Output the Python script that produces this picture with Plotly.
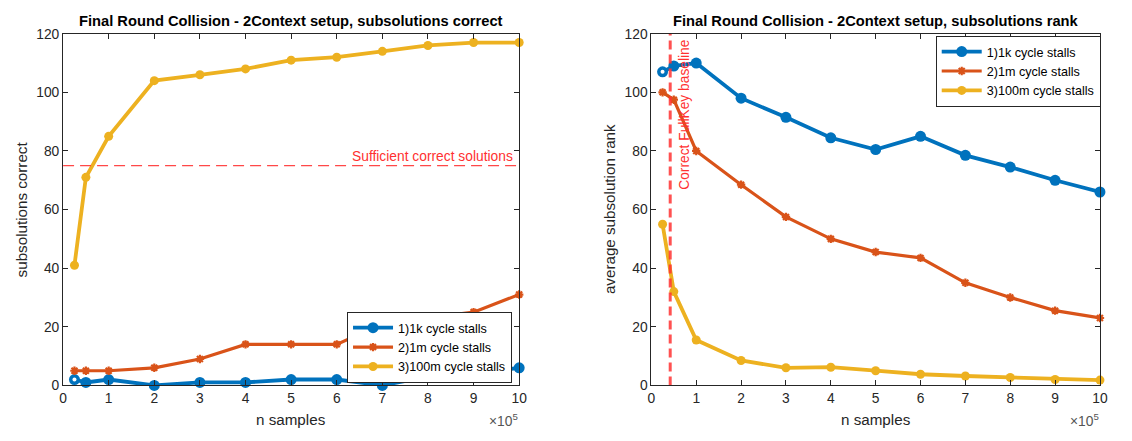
import plotly.graph_objects as go

# Sample counts (x) shared by every series
n_samples = [25000, 50000, 100000, 200000, 300000, 400000, 500000,
             600000, 700000, 800000, 900000, 1000000]
x_scale = 1e5
x_ticks = [0, 1, 2, 3, 4, 5, 6, 7, 8, 9, 10]
y_ticks = [0, 20, 40, 60, 80, 100, 120]

series_names = ["1)1k cycle stalls", "2)1m cycle stalls", "3)100m cycle stalls"]

# Left panel: number of correct subsolutions
correct_1k = [2, 1, 2, 0, 1, 1, 2, 2, 0, 3, 4, 6]
correct_1m = [5, 5, 5, 6, 9, 14, 14, 14, 21, 23, 25, 31]
correct_100m = [41, 71, 85, 104, 106, 108, 111, 112, 114, 116, 117, 117]
sufficient_correct = 75

# Right panel: average subsolution rank
rank_1k = [107, 109, 110, 98, 91.5, 84.5, 80.5, 85, 78.5, 74.5, 70, 66]
rank_1m = [100, 97.5, 80, 68.5, 57.5, 50, 45.5, 43.5, 35, 30, 25.5, 23]
rank_100m = [55, 32, 15.5, 8.5, 6, 6.2, 5, 3.8, 3.2, 2.7, 2, 1.8]
fullkey_baseline = 42000

W, H = 1132, 441
BLUE, ORANGE, YELLOW = "#0072BD", "#D95319", "#EDB120"
AX = "#262626"
RED = "#ff3030"
FONT = "Liberation Sans, Arial, Helvetica, sans-serif"

xs = [v / x_scale for v in n_samples]

# Pixel frames of the two axes boxes
L_X0, L_X1 = 59.7, 520.7
R_X0, R_X1 = 654.3, 1107.7
Y_TOP, Y_BOT = 27.7, 391.7


def px_x(p):
    return p / W


def px_y(p):
    return 1 - p / H


styles = [
    dict(color=BLUE, lw=3.8, marker=dict(symbol="circle", size=11, color=BLUE)),
    dict(color=ORANGE, lw=3.2, marker=dict(symbol="asterisk", size=7,
                                           line=dict(width=2.2, color=ORANGE), color=ORANGE)),
    dict(color=YELLOW, lw=3.8, marker=dict(symbol="circle", size=9, color=YELLOW)),
]

fig = go.Figure()

panels = [
    ("x", "y", "legend", [correct_1k, correct_1m, correct_100m]),
    ("x2", "y2", "legend2", [rank_1k, rank_1m, rank_100m]),
]

for xa, ya, lg, data in panels:
    for name, ys, st in zip(series_names, data, styles):
        fig.add_trace(go.Scatter(
            x=xs, y=ys, name=name, mode="lines+markers",
            line=dict(color=st["color"], width=st["lw"]),
            marker=st["marker"], xaxis=xa, yaxis=ya, legend=lg,
            cliponaxis=False,
        ))
    # first 1k-stall sample drawn as a ring
    fig.add_trace(go.Scatter(
        x=xs[:1], y=data[0][:1], mode="markers",
        marker=dict(symbol="circle", size=4, color="white"),
        xaxis=xa, yaxis=ya, showlegend=False, cliponaxis=False,
    ))

# Threshold line on the left panel
fig.add_trace(go.Scatter(
    x=[x_ticks[0], x_ticks[-1]], y=[sufficient_correct, sufficient_correct],
    mode="lines", line=dict(color="rgba(255,40,40,0.85)", width=1.2, dash="11px,6px"),
    xaxis="x", yaxis="y", showlegend=False,
))

# Baseline line on the right panel
fig.add_trace(go.Scatter(
    x=[fullkey_baseline / x_scale] * 2, y=[y_ticks[0], y_ticks[-1]],
    mode="lines", line=dict(color="rgba(255,50,50,0.85)", width=3, dash="9px,5px"),
    xaxis="x2", yaxis="y2", showlegend=False,
))

axis_common = dict(
    showline=True, linecolor=AX, linewidth=1, mirror="ticks",
    ticks="inside", ticklen=5, tickwidth=1, tickcolor=AX,
    showgrid=False, zeroline=False,
    tickfont=dict(family=FONT, size=13.8, color=AX),
    fixedrange=True,
)

xaxis_common = dict(axis_common, range=[0, 10], tickvals=x_ticks,
                    ticktext=[str(t) for t in x_ticks])
yaxis_common = dict(axis_common, range=[0, 120], tickvals=y_ticks,
                    ticktext=[str(t) for t in y_ticks])

legend_common = dict(
    bgcolor="white", bordercolor=AX, borderwidth=1,
    font=dict(family=FONT, size=12.6, color="black"),
    xanchor="left", yanchor="middle", tracegroupgap=0, itemwidth=40,
)

annotations = []
title_font = dict(family=FONT, size=14.7, color="black")
label_font = dict(family=FONT, size=15.2, color=AX)

for x0, x1, title, ylabel, ylab_x in [
    (L_X0, L_X1, "<b>Final Round Collision - 2Context setup, subsolutions correct</b>",
     "subsolutions correct", 18),
    (R_X0, R_X1, "<b>Final Round Collision - 2Context setup, subsolutions rank</b>",
     "average subsolution rank", 612),
]:
    cx = (x0 + x1) / 2
    annotations.append(dict(text=title, x=px_x(cx), y=px_y(15), xref="paper", yref="paper",
                            xanchor="center", yanchor="middle", showarrow=False,
                            font=title_font))
    annotations.append(dict(text="n samples", x=px_x(cx), y=px_y(427), xref="paper",
                            yref="paper", xanchor="center", yanchor="middle",
                            showarrow=False, font=label_font))
    annotations.append(dict(text=ylabel, x=px_x(ylab_x), y=px_y((Y_TOP + Y_BOT) / 2),
                            xref="paper", yref="paper", xanchor="center",
                            yanchor="middle", textangle=-90, showarrow=False,
                            font=label_font))
    annotations.append(dict(text="×10<sup>5</sup>", x=px_x(x1 + 1), y=px_y(428),
                            xref="paper", yref="paper", xanchor="right",
                            yanchor="middle", showarrow=False,
                            font=dict(family=FONT, size=13.8, color="#555555")))

annotations.append(dict(
    text="Sufficient correct solutions", x=x_ticks[-1], y=sufficient_correct,
    xref="x", yref="y", xanchor="right", yanchor="bottom", xshift=-4, yshift=0,
    showarrow=False, font=dict(family=FONT, size=13.8, color=RED),
))
annotations.append(dict(
    text="Correct FullKey baseline", x=fullkey_baseline / x_scale, y=92.4,
    xref="x2", yref="y2", xanchor="center", yanchor="middle", xshift=14,
    textangle=-90, showarrow=False, font=dict(family=FONT, size=13.8, color=RED),
))

fig.update_layout(
    width=W, height=H,
    margin=dict(l=0, r=0, t=0, b=0),
    paper_bgcolor="white", plot_bgcolor="white",
    xaxis=dict(xaxis_common, domain=[px_x(L_X0), px_x(L_X1)], anchor="y"),
    yaxis=dict(yaxis_common, domain=[px_y(Y_BOT), px_y(Y_TOP)], anchor="x"),
    xaxis2=dict(xaxis_common, domain=[px_x(R_X0), px_x(R_X1)], anchor="y2"),
    yaxis2=dict(yaxis_common, domain=[px_y(Y_BOT), px_y(Y_TOP)], anchor="x2"),
    legend=dict(legend_common, x=px_x(346.7), y=px_y(352.5)),
    legend2=dict(legend_common, x=px_x(941.7), y=px_y(66.7)),
    annotations=annotations,
    showlegend=True,
)

fig.write_html("out.html")
